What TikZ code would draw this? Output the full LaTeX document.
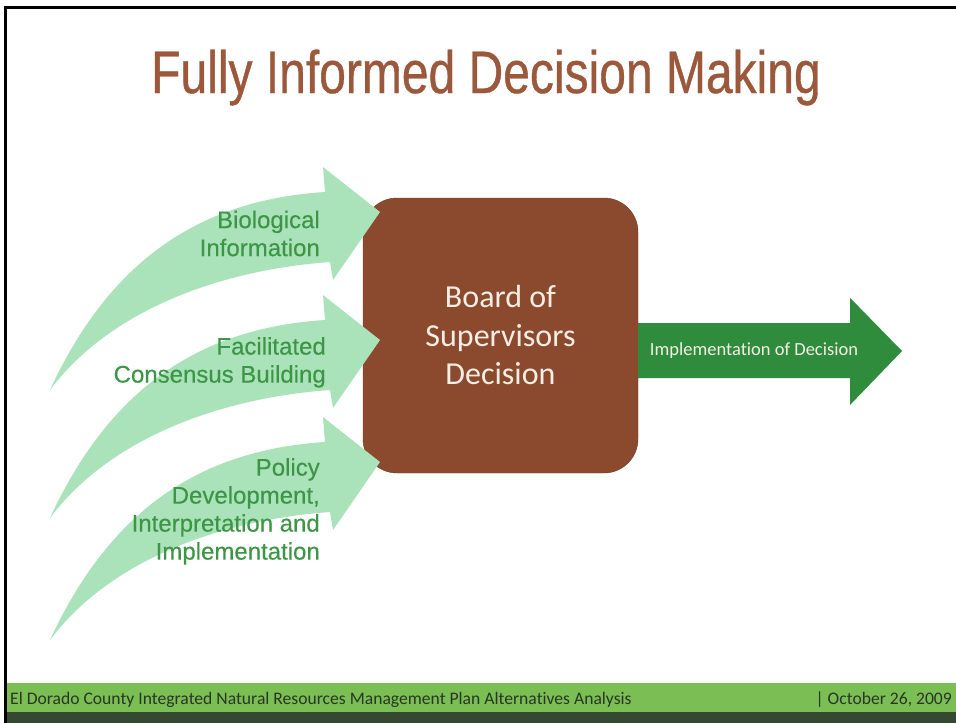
\documentclass[tikz,border=0pt]{standalone}
\usepackage{fontspec}
\setmainfont{Liberation Sans}
\newfontfamily\titlefont[FakeStretch=0.8,FakeBold=0.6]{Liberation Sans}
\newfontfamily\labelfont[FakeBold=0.3]{Liberation Sans}
\newfontfamily\slidefont[Ligatures=NoCommon]{Carlito}
\usetikzlibrary{positioning,calc}

\definecolor{titlebrown}{RGB}{155,88,58}
\definecolor{boardbrown}{RGB}{139,74,46}
\definecolor{boardtext}{RGB}{246,238,228}
\definecolor{mintgreen}{RGB}{170,226,186}
\definecolor{labelgreen}{RGB}{60,150,70}
\definecolor{implgreen}{RGB}{46,140,60}
\definecolor{footergreen}{RGB}{122,190,84}
\definecolor{footerdark}{RGB}{52,72,50}
\definecolor{footerink}{RGB}{40,55,35}

\tikzset{
  infoarrow/.style={fill=mintgreen},
  infolabel/.style={anchor=north east, inner sep=0pt, align=right, text=labelgreen,
    font=\labelfont\fontsize{24}{28}\selectfont},
  boardbox/.style={fill=boardbrown, draw=boardbrown!80!black, thin, rounded corners=34pt,
    minimum width=275pt, minimum height=275pt, align=center, text=boardtext,
    font=\slidefont\fontsize{32}{38.5}\selectfont},
  impltext/.style={text=boardtext, inner sep=0pt, font=\slidefont\fontsize{18.5}{22}\selectfont},
  footertext/.style={text=footerink, inner sep=0pt, font=\slidefont\fontsize{17.6}{20}\selectfont},
}

\begin{document}
\begin{tikzpicture}[x=1pt,y=-1pt]
  \useasboundingbox (0,0) rectangle (956,723);
  \fill[white] (0,0) rectangle (956,723);
  %frame
  \draw[line width=3pt] (5,723) -- (5,7) -- (956,7);
  %footer
  \fill[footergreen] (6.5,683) rectangle (956,712);
  \fill[footerdark] (6.5,712) rectangle (956,723);
  \node[footertext, anchor=base west] (county) at (10,704)
    {El Dorado County Integrated Natural Resources Management Plan Alternatives Analysis};
  \node[footertext, anchor=base east] (date) at (952,704) {| October 26, 2009};
  %title
  \node[text=titlebrown, inner sep=0pt, anchor=base, font=\titlefont\fontsize{60}{72}\selectfont]
    (title) at (486,93) {Fully Informed Decision Making};
  %board
  \node[boardbox] (board) at (500.5,335.5) {Board of\\Supervisors\\Decision};
  %inputs
  \foreach \dy in {0,128,250} {
    \fill[infoarrow] (50,390+\dy) .. controls (110,260+\dy) and (200,200+\dy) .. (325,192+\dy)
      -- (323,167+\dy) -- (380,212+\dy) -- (333,280+\dy) -- (330,262+\dy)
      .. controls (220,270+\dy) and (110,310+\dy) .. cycle;
  }
  \node[infolabel] (bio) at (320,210.5) {Biological\\Information};
  \node[infolabel] (consensus) at (326,337) {Facilitated\\Consensus Building};
  \node[infolabel] (policy) at (320,458) {Policy\\Development,\\Interpretation and\\Implementation};
  %output
  \fill[implgreen] ($(board.east)+(0,-12.5)$) -- ++(212,0) -- ++(0,-25) -- (902,351)
    -- (850,405) -- ++(0,-27) -- ($(board.east)+(0,42.5)$) -- cycle;
  \node[impltext] (impl) at (754,351) {Implementation of Decision};
\end{tikzpicture}
\end{document}
